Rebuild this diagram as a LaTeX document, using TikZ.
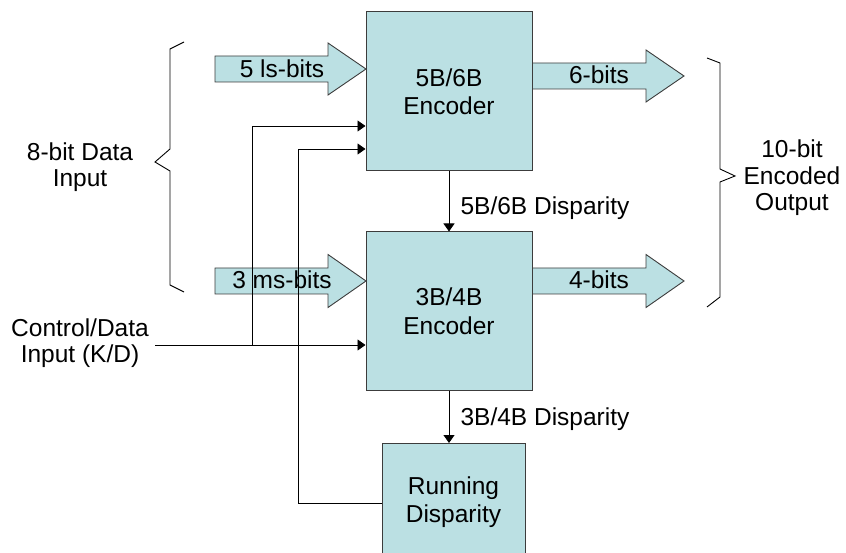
\documentclass[tikz,border=0pt]{standalone}
\usepackage{fontspec}
\setmainfont{Liberation Sans}
\usetikzlibrary{arrows.meta}
\definecolor{boxfill}{RGB}{187,224,227}
\definecolor{boxline}{RGB}{60,60,60}
\begin{document}
\begin{tikzpicture}[x=1pt,y=-1pt,
  every node/.style={font=\fontsize{24.5}{28.5}\selectfont},
  box/.style={draw=boxline, line width=1pt, fill=boxfill, align=center, inner sep=0pt, minimum width=166pt},
  wire/.style={line width=0.9pt, black},
  arr/.style={wire, -{Triangle[length=8pt,width=11pt]}},
  blk/.style={draw=boxline, line width=0.9pt, fill=boxfill, line join=miter},
  brace/.style={line width=0.9pt, black},
  side/.style={align=center, font=\fontsize{24.5}{26.5}\selectfont}]
\useasboundingbox (0,0) rectangle (846,553);
% block arrows
\path[blk] (215,56) -- (328,56) -- (328,43) -- (366,69) -- (328,95) -- (328,82) -- (215,82) -- cycle;
\path[blk] (215,268) -- (328,268) -- (328,254.5) -- (366,281) -- (328,307.5) -- (328,294) -- (215,294) -- cycle;
\path[blk] (532,63) -- (646,63) -- (646,50) -- (684,76) -- (646,102) -- (646,89) -- (532,89) -- cycle;
\path[blk] (532,268) -- (646,268) -- (646,254.5) -- (684,281) -- (646,307.5) -- (646,294) -- (532,294) -- cycle;
\node[anchor=base] (ls) at (282,78) {5 ls-bits};
\node[anchor=base] (ms) at (282,289) {3 ms-bits};
\node[anchor=base] (six) at (599,84) {6-bits};
\node[anchor=base] (four) at (599,289) {4-bits};
% boxes
\node[box, minimum height=159pt] (enc5) at (449,91.5) {5B/6B\\Encoder};
\node[box, minimum height=158pt] (enc3) at (449,311) {3B/4B\\Encoder};
\node[box, minimum width=143pt, minimum height=125pt, anchor=north] (rd) at (453.5,443) {};
\node[align=center] (rdl) at (453.5,502) {Running\\Disparity};
% disparity arrows
\draw[arr] (enc5.south) -- (enc5.south |- enc3.north);
\draw[arr] (enc3.south) -- (enc3.south |- rd.north);
\node[anchor=base west] (d56) at (457,215) {5B/6B Disparity};
\node[anchor=base west] (d34) at (457,425) {3B/4B Disparity};
% feedback
\coordinate (fb) at (298,503);
\coordinate (fbtop) at (298,149);
\draw[arr] (rd.west |- fb) -- (fb) -- (fbtop) -- (fbtop -| enc5.west);
% control
\coordinate (ctl) at (155,345);
\coordinate (br) at (252,345);
\coordinate (brtop) at (252,126);
\draw[arr] (ctl) -- (ctl -| enc3.west);
\draw[arr] (br) -- (brtop) -- (brtop -| enc5.west);
% braces
\draw[brace] (184,42) -- (170,49) -- (170,149) -- (155,162) -- (170,171) -- (170,285) -- (184,292);
\draw[brace] (707,58) -- (720,63) -- (720,169) -- (735,176) -- (720,182) -- (720,297) -- (707,307);
% side labels
\node[side] (inl) at (80,167) {8-bit Data\\Input};
\node[side] (ctll) at (80,343) {Control/Data\\Input (K/D)};
\node[side] (outl) at (792,178) {10-bit\\Encoded\\Output};
\end{tikzpicture}
\end{document}
